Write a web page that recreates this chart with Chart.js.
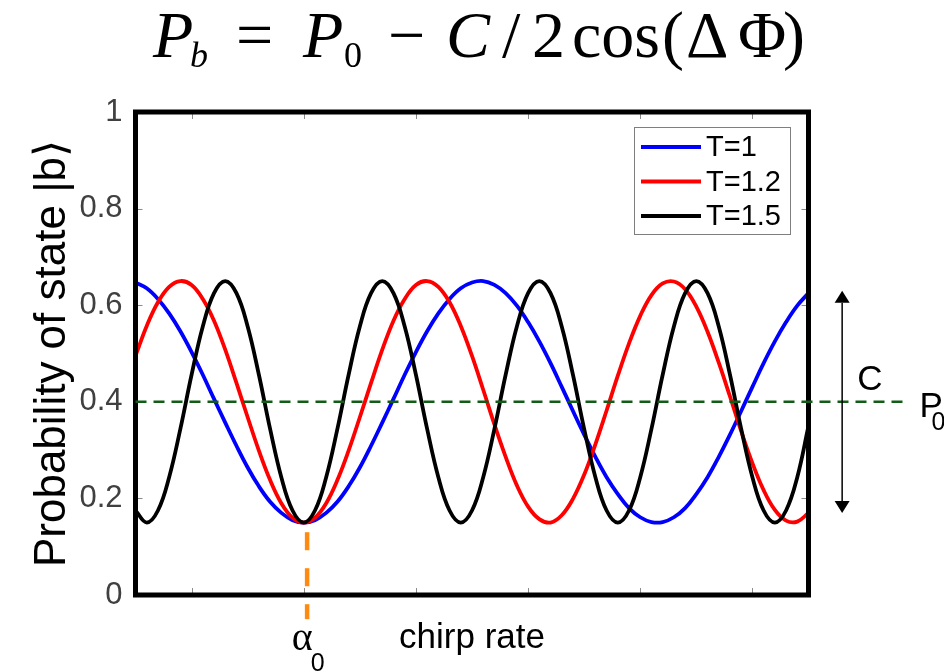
<!DOCTYPE html>
<html>
<head>
<meta charset="utf-8">
<script src="https://cdn.jsdelivr.net/npm/chart.js@4.4.1/dist/chart.umd.min.js"></script>
<style>
  html, body { margin: 0; padding: 0; background: #fff; }
  #wrap { width: 944px; height: 672px; position: relative; }
</style>
</head>
<body>
<div id="wrap"><canvas id="chart"></canvas></div>
<script>
// chirp rate (arbitrary units), one sample per unit
const chirp = [0, 1, 2, 3, 4, 5, 6, 7, 8, 9, 10, 11, 12, 13, 14, 15, 16, 17, 18, 19,
  20, 21, 22, 23, 24, 25, 26, 27, 28, 29, 30, 31, 32, 33, 34, 35, 36, 37, 38, 39,
  40, 41, 42, 43, 44, 45, 46, 47, 48, 49, 50, 51, 52, 53, 54, 55, 56, 57, 58, 59, 60];

// probability of state |b> for each pulse duration
const probT1 = [0.647, 0.635, 0.613, 0.583, 0.546, 0.503, 0.456, 0.406, 0.357, 0.309,
  0.264, 0.225, 0.193, 0.170, 0.155, 0.150, 0.155, 0.170, 0.193, 0.225,
  0.264, 0.309, 0.357, 0.406, 0.456, 0.503, 0.546, 0.583, 0.613, 0.635,
  0.647, 0.650, 0.642, 0.625, 0.599, 0.565, 0.525, 0.480, 0.431, 0.381,
  0.332, 0.286, 0.244, 0.209, 0.180, 0.161, 0.151, 0.151, 0.161, 0.180,
  0.209, 0.244, 0.286, 0.332, 0.381, 0.431, 0.480, 0.525, 0.565, 0.599,
  0.625];
const probT12 = [0.495, 0.557, 0.606, 0.638, 0.650, 0.642, 0.613, 0.568, 0.508, 0.439,
  0.368, 0.299, 0.238, 0.190, 0.160, 0.150, 0.160, 0.190, 0.238, 0.299,
  0.368, 0.439, 0.508, 0.568, 0.613, 0.642, 0.650, 0.638, 0.606, 0.557,
  0.495, 0.425, 0.353, 0.286, 0.227, 0.183, 0.157, 0.150, 0.165, 0.199,
  0.249, 0.312, 0.382, 0.454, 0.521, 0.578, 0.621, 0.645, 0.649, 0.633,
  0.597, 0.545, 0.481, 0.411, 0.339, 0.273, 0.217, 0.176, 0.154, 0.152,
  0.170];
const probT15 = [0.175, 0.150, 0.175, 0.244, 0.344, 0.456, 0.556, 0.625, 0.650, 0.625,
  0.556, 0.456, 0.344, 0.244, 0.175, 0.150, 0.175, 0.244, 0.344, 0.456,
  0.556, 0.625, 0.650, 0.625, 0.556, 0.456, 0.344, 0.244, 0.175, 0.150,
  0.175, 0.244, 0.344, 0.456, 0.556, 0.625, 0.650, 0.625, 0.556, 0.456,
  0.344, 0.244, 0.175, 0.150, 0.175, 0.244, 0.344, 0.456, 0.556, 0.625,
  0.650, 0.625, 0.556, 0.456, 0.344, 0.244, 0.175, 0.150, 0.175, 0.244,
  0.350];

const seriesLabels = ['T=1', 'T=1.2', 'T=1.5'];
const xTicks = [5, 15, 25, 35, 45, 55];
const yTicks = [0, 0.2, 0.4, 0.6, 0.8, 1];
const yTickLabels = ['0', '0.2', '0.4', '0.6', '0.8', '1'];

// annotation values
const alpha0 = 15.3;            // resonant chirp marker
const alphaMarkRange = [0.13, -0.05];
const P0 = 0.4;                 // mean probability
const p0LineEnd = 69;           // dashed P0 line runs past the frame
const contrastX = 63;           // where the C arrow sits
const contrastRange = [0.63, 0.17];

const SANS = '"Liberation Sans", Arial, sans-serif';
const SERIF = '"Liberation Serif", "Times New Roman", serif';

const toPoints = (ys) => ys.map((v, i) => ({ x: chirp[i], y: v }));

const overlay = {
  id: 'overlay',
  afterDatasetsDraw(chart) {
    const { ctx, chartArea: a, scales: { x, y } } = chart;
    ctx.save();

    // small inward tick marks on all four sides
    ctx.strokeStyle = '#8a8a8a';
    ctx.lineWidth = 1;
    ctx.beginPath();
    xTicks.forEach((v) => {
      const px = Math.round(x.getPixelForValue(v)) + 0.5;
      ctx.moveTo(px, a.top); ctx.lineTo(px, a.top + 7);
      ctx.moveTo(px, a.bottom); ctx.lineTo(px, a.bottom - 7);
    });
    yTicks.forEach((v) => {
      const py = Math.round(y.getPixelForValue(v)) + 0.5;
      ctx.moveTo(a.left, py); ctx.lineTo(a.left + 7, py);
      ctx.moveTo(a.right, py); ctx.lineTo(a.right - 7, py);
    });
    ctx.stroke();

    // heavy box
    ctx.strokeStyle = '#000';
    ctx.lineWidth = 5;
    ctx.lineJoin = 'miter';
    ctx.strokeRect(a.left, a.top, a.right - a.left, a.bottom - a.top);

    // P0 level
    const py0 = y.getPixelForValue(P0);
    ctx.setLineDash([11, 7]);
    ctx.strokeStyle = '#125c18';
    ctx.lineWidth = 2.5;
    ctx.beginPath();
    ctx.moveTo(x.getPixelForValue(0), py0);
    ctx.lineTo(x.getPixelForValue(p0LineEnd), py0);
    ctx.stroke();

    // alpha0 marker
    const pxa = x.getPixelForValue(alpha0);
    ctx.setLineDash([18, 18]);
    ctx.strokeStyle = '#ff8a10';
    ctx.lineWidth = 4.5;
    ctx.beginPath();
    ctx.moveTo(pxa, y.getPixelForValue(alphaMarkRange[0]));
    ctx.lineTo(pxa, y.getPixelForValue(alphaMarkRange[1]));
    ctx.stroke();
    ctx.setLineDash([]);

    // double arrow for the contrast C
    const ax = x.getPixelForValue(contrastX);
    const yTop = y.getPixelForValue(contrastRange[0]);
    const yBot = y.getPixelForValue(contrastRange[1]);
    const hw = 7.5, hh = 12;
    ctx.strokeStyle = '#000';
    ctx.fillStyle = '#000';
    ctx.lineWidth = 1.5;
    ctx.beginPath();
    ctx.moveTo(ax, yTop + hh); ctx.lineTo(ax, yBot - hh);
    ctx.stroke();
    ctx.beginPath();
    ctx.moveTo(ax, yTop); ctx.lineTo(ax - hw, yTop + hh); ctx.lineTo(ax + hw, yTop + hh);
    ctx.closePath(); ctx.fill();
    ctx.beginPath();
    ctx.moveTo(ax, yBot); ctx.lineTo(ax - hw, yBot - hh); ctx.lineTo(ax + hw, yBot - hh);
    ctx.closePath(); ctx.fill();

    // side labels
    ctx.textBaseline = 'alphabetic';
    ctx.textAlign = 'left';
    ctx.font = '35px ' + SANS;
    ctx.fillText('C', ax + 15, y.getPixelForValue(0.45) + 12);
    ctx.fillText('P', x.getPixelForValue(p0LineEnd) + 10, py0 + 15);
    ctx.font = '25px ' + SANS;
    ctx.fillText('0', x.getPixelForValue(p0LineEnd) + 22, py0 + 28);

    // alpha0 label under the marker
    ctx.font = '40px ' + SERIF;
    ctx.fillText('\u03B1', x.getPixelForValue(15) - 12, 650);
    ctx.font = '25px ' + SANS;
    ctx.fillText('0', x.getPixelForValue(15) + 7, 671);

    // legend box
    const bx = a.right - 174.5, by = a.top + 15, bw = 156, bh = 107;
    ctx.fillStyle = '#fff';
    ctx.fillRect(bx, by, bw, bh);
    ctx.strokeStyle = '#7f7f7f';
    ctx.lineWidth = 1;
    ctx.strokeRect(bx + 0.5, by + 0.5, bw, bh);
    ctx.font = '29px ' + SANS;
    ctx.textBaseline = 'middle';
    chart.data.datasets.forEach((ds, i) => {
      const ry = by + 20 + i * 34.5;
      ctx.strokeStyle = ds.borderColor;
      ctx.lineWidth = 4;
      ctx.beginPath();
      ctx.moveTo(bx + 7, ry); ctx.lineTo(bx + 67, ry);
      ctx.stroke();
      ctx.fillStyle = '#000';
      ctx.fillText(ds.label, bx + 72, ry + 1);
    });

    // formula heading
    ctx.textBaseline = 'alphabetic';
    ctx.fillStyle = '#000';
    const big = '66px ' + SERIF, bigIt = 'italic 66px ' + SERIF;
    const sub = '36px ' + SERIF, subIt = 'italic 36px ' + SERIF;
    const parts = [
      ['P', 153, 57, bigIt], ['b', 190, 67, subIt], ['=', 236, 57, big],
      ['P', 303, 57, bigIt], ['0', 344, 67, sub], ['\u2212', 388, 57, big],
      ['C', 446, 57, bigIt], ['/', 502, 57, big], ['2', 532, 57, big],
      ['cos', 572, 57, big], ['(', 662, 57, big], ['\u0394', 686, 57, big],
      ['\u03A6', 738, 57, big], [')', 783, 57, big]
    ];
    parts.forEach(([t, px, py, f]) => { ctx.font = f; ctx.fillText(t, px, py); });

    ctx.restore();
  }
};

new Chart(document.getElementById('chart'), {
  type: 'line',
  data: {
    datasets: [
      { label: seriesLabels[0], data: toPoints(probT1), borderColor: '#0000ff', order: 3 },
      { label: seriesLabels[1], data: toPoints(probT12), borderColor: '#ff0000', order: 2 },
      { label: seriesLabels[2], data: toPoints(probT15), borderColor: '#000000', order: 1 }
    ]
  },
  options: {
    responsive: true,
    maintainAspectRatio: false,
    animation: false,
    devicePixelRatio: 1,
    layout: { padding: { left: 0, top: 112, right: 135.5, bottom: 0 } },
    elements: {
      line: { borderWidth: 3.8, tension: 0.4, fill: false },
      point: { radius: 0 }
    },
    plugins: { legend: { display: false }, tooltip: { enabled: false } },
    scales: {
      x: {
        type: 'linear',
        min: 0,
        max: 60,
        afterBuildTicks: (s) => { s.ticks = xTicks.map((v) => ({ value: v })); },
        afterFit: (s) => { s.height = 77; },
        grid: { display: false, drawTicks: false },
        border: { display: false },
        ticks: { display: false },
        title: {
          display: true,
          text: 'chirp rate',
          color: '#000',
          font: { family: SANS, size: 35 },
          padding: { top: 0, bottom: 13 }
        }
      },
      y: {
        min: 0,
        max: 1,
        afterBuildTicks: (s) => { s.ticks = yTicks.map((v) => ({ value: v })); },
        afterFit: (s) => { s.width = 135.5; },
        grid: { display: false, drawTicks: false },
        border: { display: false },
        ticks: {
          color: '#404040',
          padding: 13,
          font: { family: SANS, size: 31 },
          callback: (v, i) => yTickLabels[i]
        },
        title: {
          display: true,
          text: 'Probability of state |b\u27E9',
          color: '#000',
          font: { family: SANS, size: 44 },
          padding: { top: 26, bottom: 0 }
        }
      }
    }
  },
  plugins: [overlay]
});
</script>
</body>
</html>
